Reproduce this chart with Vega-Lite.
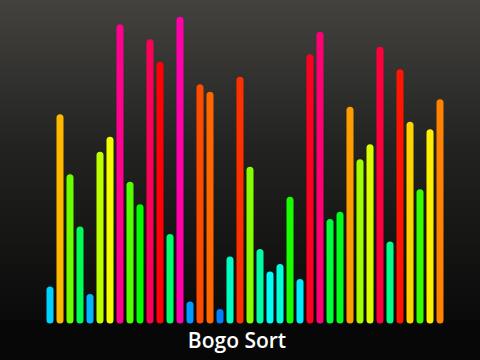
{
  "$schema": "https://vega.github.io/schema/vega-lite/v6.json",
  "width": 480,
  "height": 320,
  "autosize": {"type": "none"},
  "padding": {"top": 0, "left": 0, "right": 0, "bottom": 40},
  "background": "#070707",
  "config": {
    "view": {
      "stroke": null,
      "fill": {
        "gradient": "linear",
        "x1": 0, "y1": 0, "x2": 0, "y2": 1,
        "stops": [
          {"offset": 0, "color": "#43423f"},
          {"offset": 0.45, "color": "#232321"},
          {"offset": 1, "color": "#0a0a0a"}
        ]
      }
    }
  },
  "title": {
    "text": "Bogo Sort",
    "orient": "bottom",
    "anchor": "middle",
    "font": "Open Sans",
    "fontSize": 21,
    "fontWeight": 600,
    "color": "#ffffff",
    "offset": 7,
    "dx": -3
  },
  "data": {
    "values": [
      {"i": 0, "v": 4}, {"i": 1, "v": 27}, {"i": 2, "v": 19}, {"i": 3, "v": 12},
      {"i": 4, "v": 3}, {"i": 5, "v": 22}, {"i": 6, "v": 24}, {"i": 7, "v": 39},
      {"i": 8, "v": 18}, {"i": 9, "v": 15}, {"i": 10, "v": 37}, {"i": 11, "v": 34},
      {"i": 12, "v": 11}, {"i": 13, "v": 40}, {"i": 14, "v": 2}, {"i": 15, "v": 31},
      {"i": 16, "v": 30}, {"i": 17, "v": 1}, {"i": 18, "v": 8}, {"i": 19, "v": 32},
      {"i": 20, "v": 20}, {"i": 21, "v": 9}, {"i": 22, "v": 6}, {"i": 23, "v": 7},
      {"i": 24, "v": 16}, {"i": 25, "v": 5}, {"i": 26, "v": 35}, {"i": 27, "v": 38},
      {"i": 28, "v": 13}, {"i": 29, "v": 14}, {"i": 30, "v": 28}, {"i": 31, "v": 21},
      {"i": 32, "v": 23}, {"i": 33, "v": 36}, {"i": 34, "v": 10}, {"i": 35, "v": 33},
      {"i": 36, "v": 26}, {"i": 37, "v": 17}, {"i": 38, "v": 25}, {"i": 39, "v": 29}
    ]
  },
  "mark": {"type": "rule", "strokeWidth": 7, "strokeCap": "round", "clip": false},
  "encoding": {
    "x": {"field": "i", "type": "quantitative", "scale": {"domain": [-5, 43], "nice": false, "zero": false}, "axis": null},
    "y": {"field": "v", "type": "quantitative", "scale": {"domain": [0, 42.72], "nice": false}, "axis": null},
    "y2": {"datum": 0},
    "color": {
      "field": "v",
      "type": "quantitative",
      "scale": {
        "domain": [1, 5.68, 15.04, 24.4, 33.76, 40],
        "range": ["#0080ff", "#00ffff", "#00ff00", "#ffff00", "#ff0000", "#ff00aa"],
        "interpolate": "rgb"
      },
      "legend": null
    }
  }
}
